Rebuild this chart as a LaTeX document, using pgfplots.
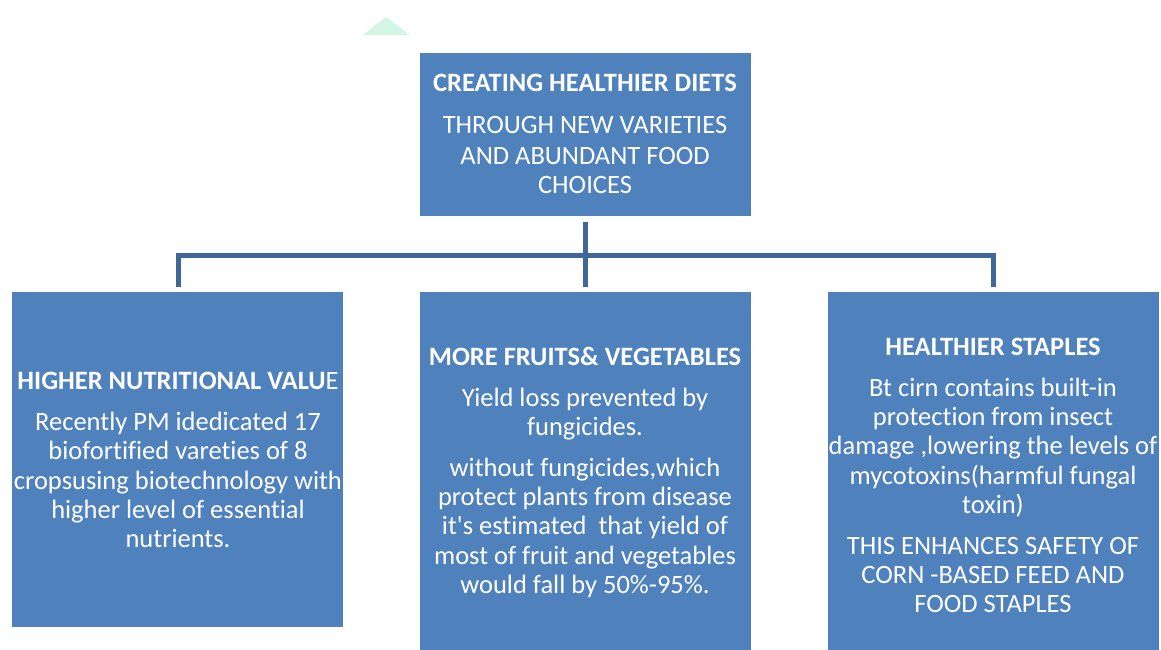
\documentclass[border=0pt]{standalone}
\usepackage{pgfplots}
\pgfplotsset{compat=1.18}
\usepackage{fontspec}
\setmainfont{Carlito}[Ligatures={NoCommon}]
\newfontfamily\plainq{Carlito}
\definecolor{boxblue}{HTML}{4F81BD}
\definecolor{linkblue}{HTML}{3F679A}
\definecolor{tri}{HTML}{D2F6E4}
\begin{document}
\begin{tikzpicture}
\begin{axis}[
  width=1161pt, height=650pt, scale only axis,
  xmin=0, xmax=1161, ymin=0, ymax=650, y dir=reverse,
  hide axis, clip=false,
]
\path[use as bounding box] (rel axis cs:0,0) rectangle (rel axis cs:1,1);
% triangle
\addplot[fill=tri, draw=none] coordinates {(363,35) (386,17) (410,35)} -- cycle;
% boxes
\addplot[fill=boxblue, draw=none] coordinates {(420,53) (751,53) (751,216) (420,216)} -- cycle;
\addplot[fill=boxblue, draw=none] coordinates {(12,292) (343,292) (343,627) (12,627)} -- cycle;
\addplot[fill=boxblue, draw=none] coordinates {(420,292) (751,292) (751,650) (420,650)} -- cycle;
\addplot[fill=boxblue, draw=none] coordinates {(828,292) (1159,292) (1159,650) (828,650)} -- cycle;
% connectors
\addplot[linkblue, line width=5pt] coordinates {(585,222) (585,287)};
\addplot[linkblue, line width=5pt, line join=miter] coordinates {(178,287) (178,255) (993,255) (993,287)};
% text
\tikzset{t/.style={text=white, anchor=base, inner sep=0pt, font=\fontsize{26.5}{30}\selectfont}}
\node[t] at (585,92) {\bfseries CREATING HEALTHIER DIETS};
\node[t] at (585,134) {THROUGH NEW VARIETIES};
\node[t] at (585,164) {AND ABUNDANT FOOD};
\node[t] at (585,193) {CHOICES};
\node[t] at (178,389) {\textbf{HIGHER NUTRITIONAL VALU}E};
\node[t] at (178,430) {Recently PM idedicated 17};
\node[t] at (178,459) {biofortified vareties of 8};
\node[t] at (178,489) {cropsusing biotechnology with};
\node[t] at (178,518) {higher level of essential};
\node[t] at (178,547) {nutrients.};
\node[t] at (585,365) {\bfseries MORE FRUITS\& VEGETABLES};
\node[t] at (585,406) {Yield loss prevented by};
\node[t] at (585,435) {fungicides.};
\node[t] at (585,476) {without fungicides,which};
\node[t] at (585,505) {protect plants from disease};
\node[t] at (585,534) {it{\plainq'}s estimated\ \ that yield of};
\node[t] at (585,564) {most of fruit and vegetables};
\node[t] at (585,593) {would fall by 50\%-95\%.};
\node[t] at (993,355) {\bfseries HEALTHIER STAPLES};
\node[t] at (993,396) {Bt cirn contains built-in};
\node[t] at (993,425) {protection from insect};
\node[t] at (993,454) {damage ,lowering the levels of};
\node[t] at (993,484) {mycotoxins(harmful fungal};
\node[t] at (993,513) {toxin)};
\node[t] at (993,554) {THIS ENHANCES SAFETY OF};
\node[t] at (993,583) {CORN -BASED FEED AND};
\node[t] at (993,612) {FOOD STAPLES};
\end{axis}
\end{tikzpicture}
\end{document}
